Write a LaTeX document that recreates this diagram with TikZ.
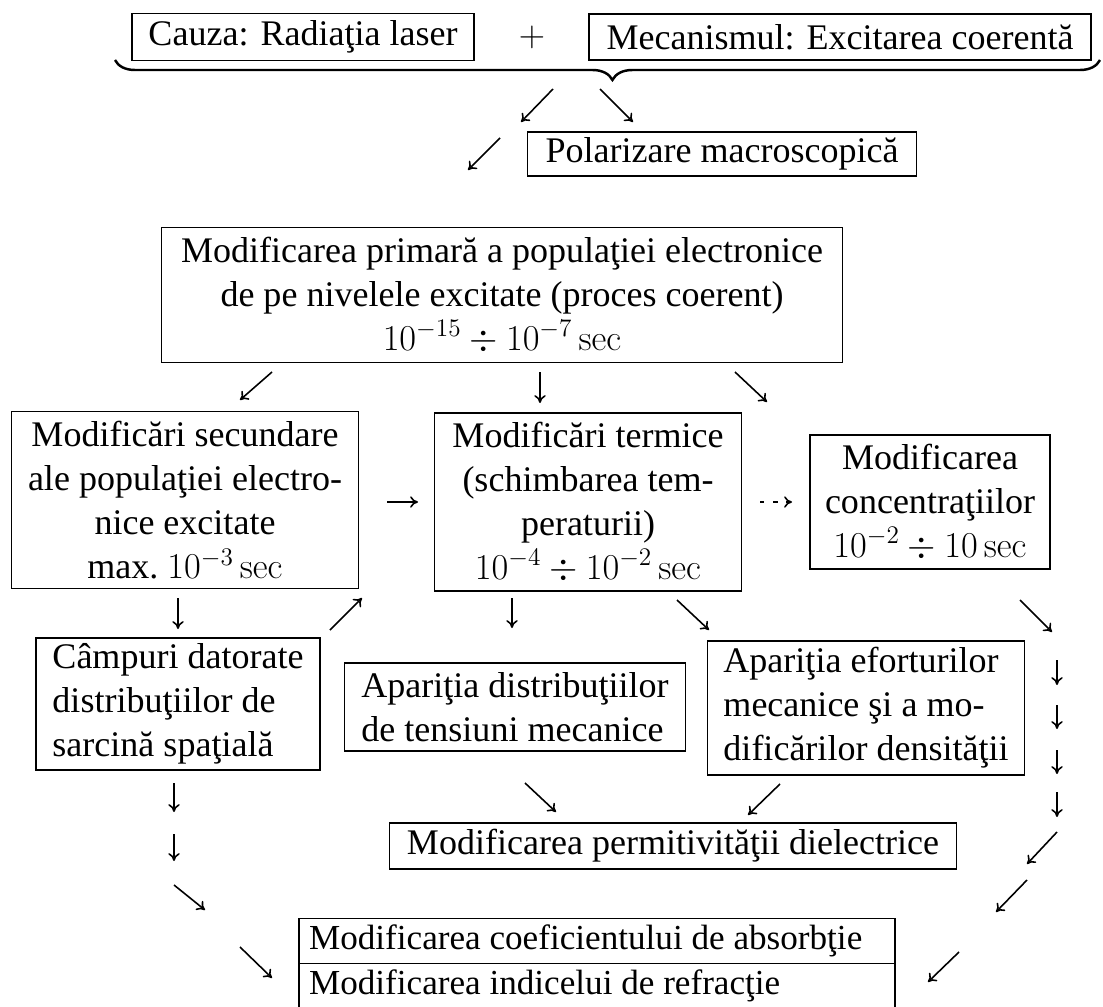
\documentclass[tikz,border=0pt]{standalone}
\usepackage[no-math]{fontspec}
\setmainfont{Liberation Serif}
\usetikzlibrary{arrows.meta, decorations.pathreplacing}

\begin{document}
\begin{tikzpicture}[x=0.02cm, y=-0.02cm,
                        font=\fontsize{20.5}{25}\selectfont,
                        box/.style={rectangle, draw, line width=1pt, align=center, inner sep=2pt},
                        leftbox/.style={box, align=left},
                        rowbox/.style={box, align=flush left, font=\fontsize{20}{25}\selectfont, text width=11.52cm,
                                       inner xsep=0.2cm, inner ysep=1pt, minimum height=0.9cm},
                        arr/.style={-{To[length=4.5pt, width=6.5pt]}, line width=0.9pt},
                        ]
        \useasboundingbox (0,0) rectangle (1103,1007);

        %Nodes
        \node[box, minimum width=6.84cm, minimum height=0.94cm]   (Cause)  at (303,37)   {Cauza: Radiaţia laser};
        \node                                                    (Plus)   at (532,37)   {$+$};
        \node[box, minimum width=10.04cm, minimum height=0.92cm]  (Mech)   at (840,37)   {Mecanismul: Excitarea coerentă};
        \node[box, minimum width=7.78cm, minimum height=0.88cm]   (Polar)  at (722,154)  {Polarizare macroscopică};

        \node[box, minimum width=13.62cm, minimum height=2.7cm]   (Prim)   at (502,295)
              {Modificarea primară a populaţiei electronice\\de pe nivelele excitate (proces coerent)\\$10^{-15}\div 10^{-7}\,\mathrm{sec}$};

        \node[box, minimum width=6.94cm, minimum height=3.54cm]   (Second) at (185,500)
              {Modificări secundare\\ale populaţiei electro-\\nice excitate\\max.\ $10^{-3}\,\mathrm{sec}$};
        \node[box, minimum width=6.14cm, minimum height=3.56cm]   (Therm)  at (588,502)
              {Modificări termice\\(schimbarea tem-\\peraturii)\\$10^{-4}\div 10^{-2}\,\mathrm{sec}$};
        \node[box, minimum width=4.8cm, minimum height=2.68cm]    (Conc)   at (930,502)
              {Modificarea\\concentraţiilor\\$10^{-2}\div 10\,\mathrm{sec}$};

        \node[leftbox, minimum width=5.68cm, minimum height=2.64cm] (Fields) at (178,704)
              {Câmpuri datorate\\distribuţiilor de\\sarcină spaţială};
        \node[leftbox, minimum width=6.82cm, minimum height=1.76cm] (Stress) at (515,707)
              {Apariţia distribuţiilor\\de tensiuni mecanice};
        \node[leftbox, minimum width=6.34cm, minimum height=2.68cm] (Strain) at (866,708)
              {Apariţia eforturilor\\mecanice şi a mo-\\dificărilor densităţii};

        \node[box, minimum width=11.34cm, minimum height=0.92cm]  (Perm)   at (673,846)  {Modificarea permitivităţii dielectrice};

        \node[rowbox] (Absorb) at (597,941) {\mbox{Modificarea coeficientului de absorbţie}};
        \node[rowbox] (Refr)   at (597,986) {\mbox{Modificarea indicelui de refracţie}};

        %Arrow ends
        \coordinate (BrL) at (115,60);
        \coordinate (BrR) at (1100,60);
        \foreach \n/\xa/\ya/\xb/\yb in {
                1/553/89/521/122,     2/600/89/633/122,     3/500/138/468/170,
                4/272/372/240/400,    5/540/372/540/403,    6/735/372/767/402,
                7/387/502/418/502,    9/178/598/178/629,    10/330/630/362/598,
                11/512/598/512/628,   12/677/600/709/630,   13/1020/600/1052/632,
                14/1057/660/1057/685, 15/1057/705/1057/729, 16/1057/750/1057/774,
                17/1057/792/1057/817, 18/525/783/556/812,   19/780/784/748/815,
                20/174/783/174/812,   21/174/834/174/861,   22/174/885/205/910,
                23/240/947/272/978,   24/1057/832/1027/864, 25/1027/880/996/912,
                26/959/952/928/982}
            {\coordinate (s\n) at (\xa,\ya); \coordinate (e\n) at (\xb,\yb);}
        \coordinate (s8) at (760,502);
        \coordinate (e8) at (792,502);

        %Lines
        \draw[line width=1.4pt, decorate, decoration={brace, mirror, amplitude=0.4cm, aspect=0.505}] (BrL) -- (BrR);
        \foreach \n in {1,...,7,9,10,...,26}
            \draw[arr] (s\n) -- (e\n);
        \draw[arr, dash pattern=on 2.5pt off 5pt] (s8) -- (e8);
    \end{tikzpicture}
\end{document}
